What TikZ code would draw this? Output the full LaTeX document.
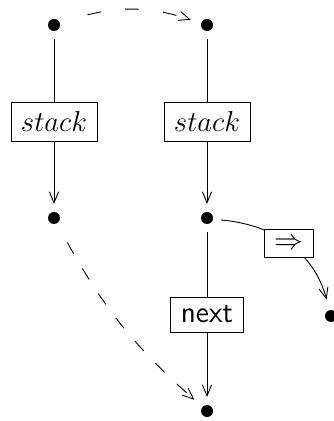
\documentclass[tikz,border=0pt]{standalone}
\usetikzlibrary{arrows.meta}
\begin{document}
\begin{tikzpicture}[x=0.5pt,y=-0.5pt,
  dot/.style={circle,fill=black,inner sep=0pt,minimum size=6pt,outer sep=4pt},
  edge/.style={line width=0.45pt,-{Straight Barb[length=5.5pt,width=4.6pt,line width=0.45pt]}},
  lbl/.style={draw,line width=0.45pt,fill=white,inner xsep=5pt,inner ysep=0pt,font=\fontsize{15}{18}\selectfont},
  dashA/.style={dash pattern=on 7pt off 12pt,dash phase=8.5pt},
  dashB/.style={dash pattern=on 6.5pt off 8.5pt,dash phase=8.1pt}
]
\useasboundingbox (0,0) rectangle (333,421);

\node[dot] (tl) at (54,25) {};
\node[dot] (tr) at (207,25) {};
\node[dot] (ml) at (54,218) {};
\node[dot] (mr) at (207,218) {};
\node[dot] (bot) at (207,411) {};
\node[dot] (side) at (331,316) {};

% vertical stack edges
\draw[edge] (tl) -- node[lbl,minimum height=19.5pt]{$stack$} (ml);
\draw[edge] (tr) -- node[lbl,minimum height=19.5pt]{$stack$} (mr);
\draw[edge] (mr) -- node[lbl,minimum height=17.5pt]{\sffamily next} (bot);

% dashed connections
\draw[edge,dashA,shorten >=1.5pt] (tl) to[bend left=18] (tr);
\draw[edge,dashB,shorten >=1.5pt] (ml) to[bend right=10] (bot);

% side branch
\draw[edge,shorten >=1.5pt] (mr.-8) to[out=-5,in=105] node[lbl,minimum height=14pt,pos=0.5]{$\Rightarrow$} (side);
\end{tikzpicture}
\end{document}
